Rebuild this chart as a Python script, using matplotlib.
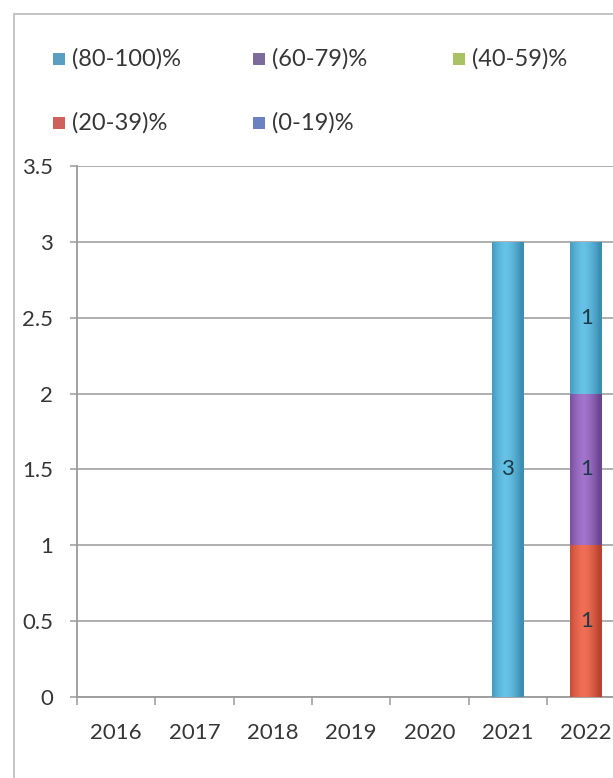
import numpy as np
import matplotlib
matplotlib.use("Agg")
import matplotlib.pyplot as plt
from matplotlib.patches import Rectangle
from matplotlib.colors import to_rgb

# ---------------- data ----------------
years = ["2016", "2017", "2018", "2019", "2020", "2021", "2022"]
s_80_100 = [0, 0, 0, 0, 0, 3, 1]
s_60_79 = [0, 0, 0, 0, 0, 0, 1]
s_40_59 = [0, 0, 0, 0, 0, 0, 0]
s_20_39 = [0, 0, 0, 0, 0, 0, 1]
s_0_19 = [0, 0, 0, 0, 0, 0, 0]
series_labels = ["(80-100)%", "(60-79)%", "(40-59)%", "(20-39)%", "(0-19)%"]
y_ticks = [0, 0.5, 1, 1.5, 2, 2.5, 3, 3.5]
y_tick_labels = ["0", "0.5", "1", "1.5", "2", "2.5", "3", "3.5"]

# ---------------- style ----------------
plt.rcParams['font.family'] = ['Lato', 'DejaVu Sans']
W, H = 613, 778
fig = plt.figure(figsize=(W / 100, H / 100), dpi=100)
fig.patch.set_facecolor('white')

# outer chart-area border (extends past the crop)
fig.add_artist(Rectangle((14 / W, -0.1), 2.0, 1 - 14 / H + 0.1,
                         transform=fig.transFigure, fill=False,
                         edgecolor='#c4c4c4', linewidth=1.4))

left = 77 / W
bottom = (H - 697) / H
top = (H - 166) / H
cat_w = 78.33
ax = fig.add_axes([left, bottom, 7 * cat_w / W, top - bottom])
ax.set_facecolor('white')

grid_col = '#9a9a9a'
text_col = '#363636'

# stacking bottom -> top
stack_order = [
    ("(0-19)%", s_0_19, '#6f8fd0', '#3f5f9a', '#6a82c2'),
    ("(20-39)%", s_20_39, '#f06e55', '#b8432f', '#d0605c'),
    ("(40-59)%", s_40_59, '#b5d06a', '#7d963a', '#a9c264'),
    ("(60-79)%", s_60_79, '#a274cc', '#6c4590', '#7d6b9e'),
    ("(80-100)%", s_80_100, '#66c2e6', '#3d8fb2', '#5a9fc2'),
]

x = np.arange(len(years))
bw = 0.40
base = np.zeros(len(years))
legend_colors = {}
for name, vals, c_center, c_edge, c_leg in stack_order:
    vals = np.array(vals, dtype=float)
    legend_colors[name] = c_leg
    bars = ax.bar(x, vals, bw, bottom=base, color=c_center, edgecolor='none',
                  zorder=3)
    # cylinder-like horizontal gradient
    ce = np.array(to_rgb(c_edge))
    cc = np.array(to_rgb(c_center))
    t = np.linspace(-1, 1, 64)
    prof = np.clip(1 - np.abs(t + 0.15) ** 1.6, 0, 1)
    img = ce[None, :] + (cc - ce)[None, :] * prof[:, None]
    img = img[None, :, :]
    for rect, v in zip(bars, vals):
        if v <= 0:
            continue
        bx, by = rect.get_x(), rect.get_y()
        im = ax.imshow(img, extent=[bx, bx + rect.get_width(), by, by + rect.get_height()],
                       aspect='auto', zorder=3.5, interpolation='bilinear')
        im.set_clip_path(rect)
    for xi, b0, v in zip(x, base, vals):
        if v > 0:
            ax.text(xi, b0 + v / 2, f"{int(v)}", ha='center', va='center',
                    fontsize=16, color='#1e3946', zorder=5)
    base = base + vals

ax.set_xlim(-0.5, len(years) - 0.5)
ax.set_ylim(0, 3.5)
ax.set_yticks(y_ticks)
ax.set_yticklabels(y_tick_labels)
ax.set_xticks(x)
ax.set_xticklabels(years)
ax.set_xticks(np.arange(-0.5, len(years) + 0.5, 1), minor=True)

ax.yaxis.grid(True, color=grid_col, linewidth=1.1, zorder=0)
ax.set_axisbelow(True)
for s in ['top', 'right']:
    ax.spines[s].set_visible(False)
for s in ['left', 'bottom']:
    ax.spines[s].set_color(grid_col)
    ax.spines[s].set_linewidth(1.3)

ax.tick_params(axis='y', length=5.2, width=1.1, color=grid_col, pad=12,
               labelsize=16, labelcolor=text_col)
ax.tick_params(axis='x', which='major', length=0, pad=19, labelsize=16,
               labelcolor=text_col)
ax.tick_params(axis='x', which='minor', length=5.5, width=1.1, color=grid_col)

# legend (Excel-style, row-major, fixed column spacing)
leg_rows = [["(80-100)%", "(60-79)%", "(40-59)%"], ["(20-39)%", "(0-19)%"]]
row_y = [59, 123]
col_x = [72, 272, 472]
for r, names in enumerate(leg_rows):
    for c, name in enumerate(names):
        tx = col_x[c] / W
        ty = 1 - row_y[r] / H
        fig.add_artist(Rectangle(((col_x[c] - 19) / W, ty - 6 / H), 12 / W, 12 / H,
                                 transform=fig.transFigure,
                                 facecolor=legend_colors[name], edgecolor='none'))
        fig.text(tx, ty, name, ha='left', va='center', fontsize=17,
                 color=text_col)

fig.savefig("out.png", dpi=100, facecolor='white')
